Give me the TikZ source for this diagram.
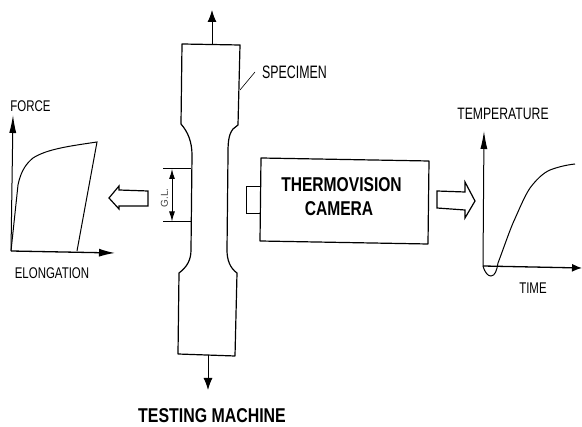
\documentclass[tikz,border=0pt]{standalone}
\usepackage{fontspec}
\setmainfont{Liberation Sans}
\usetikzlibrary{positioning}
\usetikzlibrary{calc}
\usepgflibrary{arrows.meta}
\tikzset{
    outline/.style={draw, line width=1.2pt, line join=round},
    hollow/.style={draw, line width=1.2pt, line join=miter},
    axis/.style={draw, line width=1pt, -{Latex[length=18pt, width=7pt]}},
    pull/.style={draw, line width=1pt, -{Latex[length=12pt, width=9pt]}},
    curve/.style={draw, line width=1pt},
    lbl/.style={font=\fontsize{15.5}{15.5}\selectfont, xscale=0.74, transform shape, inner sep=0pt},
    bigname/.style={font=\bfseries\fontsize{20}{20}\selectfont, xscale=0.78, transform shape, inner sep=0pt}
}
\begin{document}
\begin{tikzpicture}[x=1pt, y=-1pt]
    \useasboundingbox (0, 0) rectangle (582, 427);
    % specimen
    \path[outline] (182, 44) -- (240, 45) -- (238, 125) -- (233, 129)
        .. controls (228, 135) and (228, 145) .. (228, 155) -- (227, 250)
        .. controls (227, 260) and (230, 268) .. (237, 273) -- (235, 356) -- (178, 354) -- (179, 273)
        .. controls (187, 267) and (191, 260) .. (191, 250) -- (192, 155)
        .. controls (192, 142) and (188, 132) .. (181, 124) -- cycle;
    \coordinate (topmid) at (212, 44);
    \coordinate (toptip) at (212, 10);
    \coordinate (botmid) at (208, 355);
    \coordinate (bottip) at (208, 390);
    \path[pull] (topmid) -- (toptip);
    \path[pull] (botmid) -- (bottip);
    \node[lbl, xscale=0.93, font=\fontsize{18}{18}\selectfont] (specimen) at (294.5, 72) {SPECIMEN};
    \coordinate (speciedge) at (240, 90);
    \coordinate (leaderend) at (255, 72);
    \path[draw, line width=0.6pt] (speciedge) -- (leaderend);
    % gauge length
    \coordinate (gltop) at (172, 169);
    \coordinate (glbot) at (172, 221.5);
    \path[draw, line width=1pt] (163, 169) -- (191, 169);
    \path[draw, line width=1pt] (163, 221.5) -- (191, 221.5);
    \path[draw, line width=1pt, {Latex[length=10pt, width=6pt]}-{Latex[length=10pt, width=6pt]}] (gltop) -- (glbot);
    \node[rotate=90, inner sep=0pt, font=\fontsize{10}{10}\selectfont, black!75] (gl) at (164.5, 198) {G.L.};
    % hollow arrows
    \path[hollow] (109, 198) -- (119, 186) -- (119, 190) -- (148, 191) -- (148, 206) -- (119, 206) -- (119, 209) -- cycle;
    \path[hollow] (437, 191) -- (465, 192) -- (465, 182) -- (475, 201) -- (465, 218) -- (465, 210) -- (437, 208) -- cycle;
    % force plot
    \coordinate (forigin) at (11, 251);
    \coordinate (fytip) at (13, 115);
    \coordinate (fxtip) at (115, 253);
    \path[axis] (forigin) -- (fytip);
    \path[axis, line width=1.3pt, -{Latex[length=16pt, width=8pt]}] (forigin) -- (fxtip);
    \path[curve] (forigin) -- (18, 185) .. controls (21, 170) and (27, 163) .. (33, 158)
        .. controls (47, 149) and (70, 146) .. (97, 142) -- (77, 251);
    \node[lbl] (force) at (30.5, 106) {FORCE};
    \node[lbl] (elongation) at (52, 273) {ELONGATION};
    % camera
    \path[outline] (261, 158) -- (429, 161) -- (428, 244) -- (260, 241) -- cycle;
    \path[draw, line width=1pt] (261, 187) -- (246, 187) -- (246, 214) -- (260, 214);
    \node[bigname] (thermo) at (341.5, 184.5) {THERMOVISION};
    \node[bigname] (camera) at (339, 209) {CAMERA};
    % temperature plot
    \coordinate (torigin) at (483, 266);
    \coordinate (tytip) at (484, 131);
    \coordinate (txtip) at (582, 268);
    \path[axis] (torigin) -- (tytip);
    \path[axis, line width=1.3pt, -{Latex[length=10pt, width=8pt]}] (torigin) -- (txtip);
    \path[curve] (torigin) .. controls (485, 273) and (488, 276) .. (491, 276)
        .. controls (495, 276) and (497, 270) .. (498, 263)
        .. controls (503, 250) and (508, 235) .. (513, 223)
        .. controls (519, 210) and (524, 197) .. (530, 188)
        .. controls (536, 180) and (543, 173) .. (550, 170)
        .. controls (558, 167) and (566, 165) .. (575, 164);
    \node[lbl, font=\fontsize{16.5}{16.5}\selectfont] (temperature) at (503, 114) {TEMPERATURE};
    \node[lbl] (time) at (533, 288) {TIME};
    \node[bigname, xscale=1.02] (machine) at (212, 416) {TESTING MACHINE};
\end{tikzpicture}
\end{document}
